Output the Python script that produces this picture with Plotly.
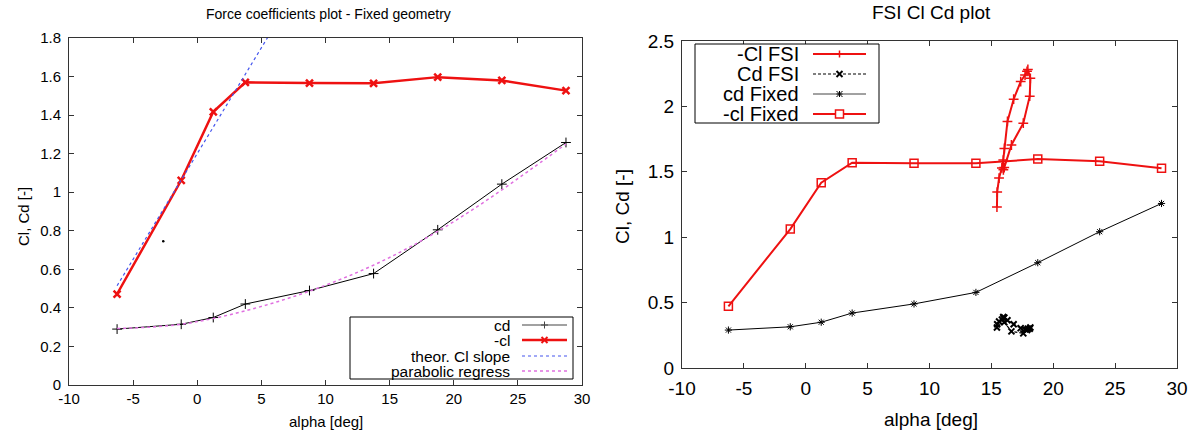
import plotly.graph_objects as go

# ---------------- data ----------------
alpha_fixed = [-6.25, -1.25, 1.25, 3.75, 8.75, 13.75, 18.75, 23.75, 28.75]
cd_fixed = [0.29, 0.315, 0.35, 0.42, 0.49, 0.578, 0.805, 1.042, 1.258]
cl_fixed = [0.472, 1.062, 1.417, 1.570, 1.566, 1.565, 1.597, 1.580, 1.527]

alpha_theory = [-6.25, 5.6]
cl_theory = [0.515, 1.815]

alpha_parab = [-6.25, -3.75, -1.25, 1.25, 3.75, 6.25, 8.75, 11.25, 13.75,
               16.25, 18.75, 21.25, 23.75, 26.25, 28.75]
cd_parab = [0.293, 0.300, 0.315, 0.345, 0.385, 0.432, 0.487, 0.550, 0.622,
            0.704, 0.797, 0.900, 1.012, 1.130, 1.250]

stray_alpha = [-2.65]
stray_val = [0.746]

alpha_fsi = [15.45, 15.47, 15.62, 15.85, 15.96, 16.05, 16.30, 16.80, 17.37,
             17.72, 17.88, 17.95, 18.15, 18.10, 17.58, 16.62, 16.04, 15.97]
cl_fsi = [1.23, 1.345, 1.452, 1.53, 1.59, 1.678, 1.885, 2.055, 2.19,
          2.24, 2.268, 2.282, 2.215, 2.078, 1.872, 1.705, 1.532, 1.515]
cd_fsi = [0.31, 0.335, 0.355, 0.37, 0.39, 0.385, 0.365, 0.335, 0.305,
          0.295, 0.29, 0.30, 0.31, 0.30, 0.265, 0.28, 0.35, 0.38]

x_ticks = [-10, -5, 0, 5, 10, 15, 20, 25, 30]
x_ticklabels = ["-10", "-5", "0", "5", "10", "15", "20", "25", "30"]
y_ticks_left = [0, 0.2, 0.4, 0.6, 0.8, 1.0, 1.2, 1.4, 1.6, 1.8]
y_ticklabels_left = ["0", "0.2", "0.4", "0.6", "0.8", "1", "1.2", "1.4", "1.6", "1.8"]
y_ticks_right = [0, 0.5, 1.0, 1.5, 2.0, 2.5]
y_ticklabels_right = ["0", "0.5", "1", "1.5", "2", "2.5"]

left_legend_labels = ["cd", "-cl", "theor. Cl slope", "parabolic regress"]
right_legend_labels = ["-Cl FSI", "Cd FSI", "cd Fixed", "-cl Fixed"]

FONT = "Liberation Sans, Arial, sans-serif"
W, H = 1199, 443
RED = "#ee1111"
BLUE = "#4455ee"
PINK = "#e070e0"
SHORTDASH = "3px,2px"

# styles
st_cd = dict(line=dict(color="black", width=1),
             marker=dict(symbol="cross-thin-open", size=7, line=dict(color="black", width=1)))
st_cl = dict(line=dict(color=RED, width=2.5),
             marker=dict(symbol="x-thin-open", size=7, line=dict(color=RED, width=2.5)))
st_th = dict(line=dict(color=BLUE, width=1.2, dash="dot"))
st_pa = dict(line=dict(color=PINK, width=1.5, dash="dot", shape="spline"))
st_clfsi = dict(line=dict(color=RED, width=2),
                marker=dict(symbol="cross-thin-open", size=7, line=dict(color=RED, width=1.5)))
st_cdfsi = dict(line=dict(color="black", width=1.2, dash=SHORTDASH),
                marker=dict(symbol="x-thin-open", size=6, line=dict(color="black", width=2)))
st_cdfix = dict(line=dict(color="black", width=1),
                marker=dict(symbol="asterisk-open", size=6, line=dict(color="black", width=1)))
st_clfix = dict(line=dict(color=RED, width=2),
                marker=dict(symbol="square-open", size=8, line=dict(color=RED, width=1.5)))

fig = go.Figure()

# ---------- left plot ----------
fig.add_trace(go.Scatter(x=alpha_fixed, y=cd_fixed, mode="lines+markers", name="cd",
                         xaxis="x", yaxis="y", **st_cd))
fig.add_trace(go.Scatter(x=alpha_fixed, y=cl_fixed, mode="lines+markers", name="-cl",
                         xaxis="x", yaxis="y", **st_cl))
fig.add_trace(go.Scatter(x=alpha_theory, y=cl_theory, mode="lines", name="theor. Cl slope",
                         xaxis="x", yaxis="y", **st_th))
fig.add_trace(go.Scatter(x=alpha_parab, y=cd_parab, mode="lines", name="parabolic regress",
                         xaxis="x", yaxis="y", **st_pa))
fig.add_trace(go.Scatter(x=stray_alpha, y=stray_val, mode="markers", name="",
                         marker=dict(color="black", size=2.5), xaxis="x", yaxis="y"))

# ---------- right plot ----------
fig.add_trace(go.Scatter(x=alpha_fsi, y=cl_fsi, mode="lines+markers", name="-Cl FSI",
                         xaxis="x2", yaxis="y2", **st_clfsi))
fig.add_trace(go.Scatter(x=alpha_fsi, y=cd_fsi, mode="lines+markers", name="Cd FSI",
                         xaxis="x2", yaxis="y2", **st_cdfsi))
fig.add_trace(go.Scatter(x=alpha_fixed, y=cd_fixed, mode="lines+markers", name="cd Fixed",
                         xaxis="x2", yaxis="y2", **st_cdfix))
fig.add_trace(go.Scatter(x=alpha_fixed, y=cl_fixed, mode="lines+markers", name="-cl Fixed",
                         xaxis="x2", yaxis="y2", **st_clfix))


def px_x(p):
    return p / W


def px_y(p):
    return 1 - p / H


shapes = []
annotations = []


def seg(x0, y0, x1, y1, color, width, dash="solid"):
    shapes.append(dict(type="line", xref="paper", yref="paper",
                       x0=px_x(x0), y0=px_y(y0), x1=px_x(x1), y1=px_y(y1),
                       line=dict(color=color, width=width, dash=dash)))


def key_marker(kind, cx, cy, r, color, width):
    if kind in ("plus", "asterisk"):
        seg(cx - r, cy, cx + r, cy, color, width)
        seg(cx, cy - r, cx, cy + r, color, width)
    if kind in ("x", "asterisk"):
        seg(cx - r, cy - r, cx + r, cy + r, color, width)
        seg(cx - r, cy + r, cx + r, cy - r, color, width)
    if kind == "square":
        shapes.append(dict(type="rect", xref="paper", yref="paper",
                           x0=px_x(cx - r), y0=px_y(cy + r), x1=px_x(cx + r), y1=px_y(cy - r),
                           line=dict(color=color, width=width), fillcolor="white"))


def legend_box(x0, y0, x1, y1):
    shapes.append(dict(type="rect", xref="paper", yref="paper",
                       x0=px_x(x0), y0=px_y(y1), x1=px_x(x1), y1=px_y(y0),
                       line=dict(color="black", width=1), fillcolor="white", layer="above"))


def legend_entry(label, text_right, cy, lx0, lx1, color, width, dash, marker, mcolor, mwidth, mr,
                 size):
    annotations.append(dict(text=label, x=px_x(text_right), y=px_y(cy), xref="paper",
                            yref="paper", xanchor="right", yanchor="middle", showarrow=False,
                            font=dict(size=size)))
    seg(lx0, cy, lx1, cy, color, width, dash)
    if marker:
        key_marker(marker, (lx0 + lx1) / 2, cy, mr, mcolor, mwidth)


# left legend (gnuplot style: text, then sample)
legend_box(350, 317, 573, 379)
left_rows = [325, 340, 356, 371]
left_keys = [("#444444", 1.2, "solid", "plus", "#444444", 1, 3.5),
             (RED, 2.5, "solid", "x", RED, 2, 3),
             (BLUE, 1.2, "dot", None, None, 0, 0),
             (PINK, 1.5, "dot", None, None, 0, 0)]
for lab, cy, k in zip(left_legend_labels, left_rows, left_keys):
    legend_entry(lab, 512, cy, 522, 567, k[0], k[1], k[2], k[3], k[4], k[5], k[6], 15.5)

# right legend
legend_box(695, 44, 879, 123)
right_rows = [54, 74, 94, 114]
right_keys = [(RED, 2, "solid", "plus", RED, 1.5, 3.5),
              ("black", 1.2, SHORTDASH, "x", "black", 2, 3),
              ("#444444", 1, "solid", "asterisk", "black", 1, 3),
              (RED, 2, "solid", "square", RED, 1.5, 4)]
for lab, cy, k in zip(right_legend_labels, right_rows, right_keys):
    legend_entry(lab, 801, cy, 813, 866, k[0], k[1], k[2], k[3], k[4], k[5], k[6], 20)

annotations += [
    dict(text="Force coefficients plot - Fixed geometry", x=px_x(328), y=px_y(14),
         xref="paper", yref="paper", showarrow=False, font=dict(size=14),
         xanchor="center", yanchor="middle"),
    dict(text="alpha [deg]", x=px_x(326), y=px_y(421),
         xref="paper", yref="paper", showarrow=False, font=dict(size=15),
         xanchor="center", yanchor="middle"),
    dict(text="Cl, Cd [-]", x=px_x(23), y=px_y(217), textangle=-90,
         xref="paper", yref="paper", showarrow=False, font=dict(size=15),
         xanchor="center", yanchor="middle"),
    dict(text="FSI Cl Cd plot", x=px_x(931), y=px_y(12),
         xref="paper", yref="paper", showarrow=False, font=dict(size=19),
         xanchor="center", yanchor="middle"),
    dict(text="alpha [deg]", x=px_x(931), y=px_y(419),
         xref="paper", yref="paper", showarrow=False, font=dict(size=19),
         xanchor="center", yanchor="middle"),
    dict(text="Cl, Cd [-]", x=px_x(623), y=px_y(207), textangle=-90,
         xref="paper", yref="paper", showarrow=False, font=dict(size=19),
         xanchor="center", yanchor="middle"),
]

axis_common = dict(showgrid=False, zeroline=False, showline=True, linecolor="#333333",
                   linewidth=1, mirror="ticks", ticks="inside", ticklen=5,
                   tickcolor="#333333", color="black", automargin=False)

fig.update_layout(
    width=W, height=H,
    margin=dict(l=0, r=0, t=0, b=0, autoexpand=False),
    paper_bgcolor="white", plot_bgcolor="white",
    font=dict(family=FONT, color="black"),
    showlegend=False,
    xaxis=dict(domain=[px_x(69), px_x(582)], range=[-10, 30], tickvals=x_ticks,
               ticktext=x_ticklabels, anchor="y", tickfont=dict(size=15), **axis_common),
    yaxis=dict(domain=[px_y(385), px_y(38)], range=[0, 1.8], tickvals=y_ticks_left,
               ticktext=y_ticklabels_left, anchor="x", tickfont=dict(size=15),
               ticklabelstandoff=4, **axis_common),
    xaxis2=dict(domain=[px_x(682), px_x(1177)], range=[-10, 30], tickvals=x_ticks,
                ticktext=x_ticklabels, anchor="y2", tickfont=dict(size=19),
                ticklabelstandoff=3, **axis_common),
    yaxis2=dict(domain=[px_y(368), px_y(41)], range=[0, 2.5], tickvals=y_ticks_right,
                ticktext=y_ticklabels_right, anchor="x2", tickfont=dict(size=19),
                ticklabelstandoff=3, **axis_common),
    shapes=shapes,
    annotations=annotations,
)

fig.write_html("out.html", config={"displayModeBar": False},
               post_script="document.body.style.margin='0';")
